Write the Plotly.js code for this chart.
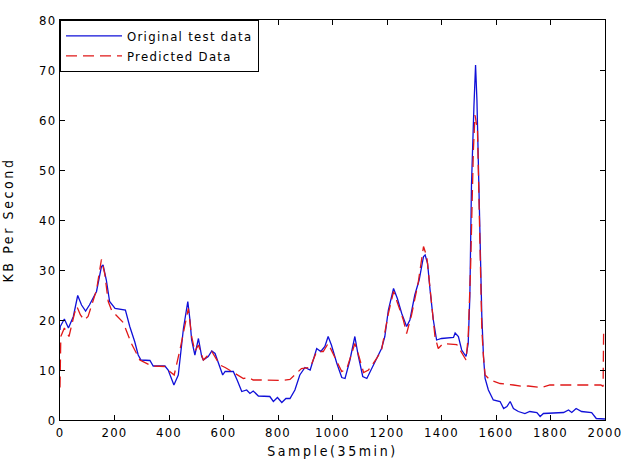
<!DOCTYPE html>
<html>
<head>
<meta charset="utf-8">
<script src="https://cdn.plot.ly/plotly-3.0.1.min.js"></script>
<style>
html,body{margin:0;padding:0;background:#fff;}
#chart{width:621px;height:459px;}
.legendtext{letter-spacing:1.3px;}
.xtick text,.ytick text{letter-spacing:1.3px;}
.xtitle,.ytitle{letter-spacing:2.6px;}
</style>
</head>
<body>
<div id="chart"></div>
<script>
// Original test data (blue)
const origX = [0,1,16,31,49,65,79,94,108,134,152,158,170,182,202,226,240,256,274,287,297,330,342,385,397,418,434,453,469,477,483,495,508,520,526,544,557,569,581,597,606,636,650,667,685,697,709,728,770,783,798,814,829,844,862,880,899,918,942,957,972,984,996,1016,1034,1046,1064,1082,1094,1111,1126,1144,1162,1180,1192,1205,1224,1238,1254,1272,1284,1302,1318,1334,1340,1349,1358,1370,1382,1400,1444,1450,1462,1474,1490,1498,1504,1510,1519,1525,1530,1536,1542,1548,1554,1560,1572,1590,1615,1628,1640,1652,1664,1682,1706,1724,1750,1762,1774,1848,1866,1878,1894,1914,1951,1968,2000];
const origY = [18,18.7,20.2,18.4,20.7,24.9,23,21.8,23,25.7,30.7,31,28,23.7,22.3,22.1,22,18.7,15.7,13,12,11.9,10.8,10.8,10,7,9,18.3,23.7,20,16,13,16.3,12.7,12,12.7,13.8,13.3,11.3,9,9.7,9.7,8,5.7,6,5.3,5.8,4.8,4.7,3.7,4.5,3.5,4.3,4.3,6,9,10.5,10,14.3,13.7,14.7,16.7,15,11.3,8.5,8.3,12,16.7,13,8.7,8.3,10.3,12.3,14.3,16.7,22,26.3,24.3,21.3,18.7,20,25,28,32.7,33,31.3,26,20,16,16.3,16.5,17.4,16.7,14,12.7,15.3,24.7,47,62.7,71,64,49,34,20.7,12.7,8.3,6,4,3.7,2.3,2.7,3.7,2.3,1.7,1.3,1.7,1.5,0.7,1.3,1.5,2,1.5,2.3,1.7,1.5,0.3,0.2];

// Predicted data (red)
const predX = [0,1,3,16,33,53,62,75,89,103,134,152,164,177,189,202,232,262,293,336,385,403,419,440,459,471,483,495,508,526,557,587,606,636,654,673,691,709,740,808,844,868,886,918,942,966,984,1016,1034,1052,1082,1094,1114,1132,1162,1180,1205,1224,1242,1260,1272,1290,1314,1334,1346,1358,1376,1388,1406,1456,1474,1490,1498,1507,1517,1523,1532,1536,1542,1548,1554,1560,1578,1615,1664,1700,1718,1768,1798,1873,1985,1993,1995];
const predY = [6.5,14,16.7,18.4,16.7,21.3,22.7,21,20,20.7,26,32.1,29.3,23.7,22,21.2,19.5,15.3,12,10.8,10.7,9.7,9,14,19.3,22.3,16.7,13.7,15,12,13.7,11,10.5,9.5,8.8,8.3,8.5,8,8,7.9,8.1,9.3,10.3,10.5,13.7,13.7,15.3,11.7,9.7,10.2,15.3,13.3,9.5,10,12.3,14,21.3,25.7,22.7,20,17.3,21,27.3,34.7,32.7,26.3,16.7,14.3,15.3,15.1,13.3,12,16.7,31,54,61,58,47,27.3,18,12.7,9,8,7.3,7,6.7,6.8,6.5,7,7,7,6.7,18];

const xTickVals = [0,200,400,600,800,1000,1200,1400,1600,1800,2000];
const yTickVals = [0,10,20,30,40,50,60,70,80];

const FONT = '"Liberation Sans Narrow", "DejaVu Sans Condensed", Arial, sans-serif';

const traces = [
  {x: origX, y: origY, type: 'scatter', mode: 'lines', name: 'Original test data',
   line: {color: '#1010d8', width: 1.3}},
  {x: predX, y: predY, type: 'scatter', mode: 'lines', name: 'Predicted Data',
   line: {color: '#e01818', width: 1.3, dash: '11px,6px'}}
];

const axisCommon = {
  showline: true, mirror: 'ticks', linecolor: '#000', linewidth: 1,
  ticks: 'inside', ticklen: 5, tickcolor: '#000', showgrid: false, zeroline: false,
  ticklabeloverflow: 'allow',
  tickfont: {family: FONT, size: 13, color: '#000'}
};

const layout = {
  width: 621, height: 459,
  margin: {l: 60, r: 16, t: 20, b: 39},
  paper_bgcolor: '#fff', plot_bgcolor: '#fff',
  showlegend: true,
  legend: {x: 0, y: 1, xanchor: 'left', yanchor: 'top', bgcolor: '#fff',
           bordercolor: '#000', borderwidth: 1, itemwidth: 56,
           font: {family: FONT, size: 13, color: '#000'}},
  xaxis: Object.assign({}, axisCommon, {
    range: [0, 2000], tickvals: xTickVals, ticktext: xTickVals.map(String),
    title: {text: 'Sample(35min)', font: {family: FONT, size: 14, color: '#000'}, standoff: 7}
  }),
  yaxis: Object.assign({}, axisCommon, {
    range: [0, 80], tickvals: yTickVals, ticktext: yTickVals.map(String),
    title: {text: 'KB Per Second', font: {family: FONT, size: 14, color: '#000'}, standoff: 22}
  })
};

Plotly.newPlot('chart', traces, layout, {displayModeBar: false, staticPlot: true});
</script>
</body>
</html>
